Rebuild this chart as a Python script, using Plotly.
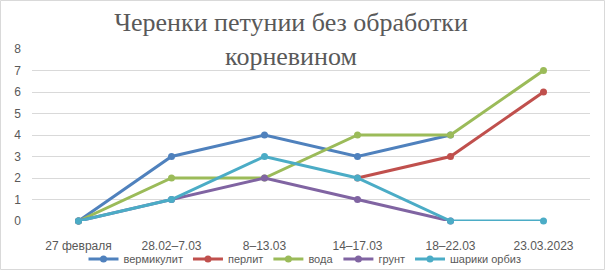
import plotly.graph_objects as go

categories = ["27 февраля", "28.02–7.03", "8–13.03", "14–17.03", "18–22.03", "23.03.2023"]
names = ["вермикулит", "перлит", "вода", "грунт", "шарики орбиз"]
vermiculite = [0, 3, 4, 3, 4, None]
perlite = [None, None, None, 2, 3, 6]
water = [0, 2, 2, 4, 4, 7]
soil = [0, 1, 2, 1, 0, None]
orbiz = [0, 1, 3, 2, 0, 0]
y_ticks = [0, 1, 2, 3, 4, 5, 6, 7, 8]
title_text = "Черенки петунии без обработки<br>корневином"

series = [vermiculite, perlite, water, soil, orbiz]
colors = ["#4F81BD", "#C0504D", "#9BBB59", "#8064A2", "#4BACC6"]

fig = go.Figure()
for name, vals, col in zip(names, series, colors):
    fig.add_trace(go.Scatter(
        x=categories, y=vals, name=name, mode="lines+markers",
        line=dict(color=col, width=3),
        marker=dict(color=col, size=7, symbol="circle"),
        connectgaps=False, cliponaxis=False,
    ))

L, R, T, B = 32, 15, 49, 49
W, H = 605, 270
pw, ph = W - L - R, H - T - B

fig.update_layout(
    width=W, height=H,
    margin=dict(l=L, r=R, t=T, b=B, autoexpand=False),
    paper_bgcolor="white", plot_bgcolor="white",
    title=dict(text=title_text, x=291 / W, xref="container", xanchor="center",
               y=1 - 31 / H, yref="container", yanchor="top",
               font=dict(family="Liberation Serif", size=26, color="#595959")),
    xaxis=dict(type="category", range=[-0.5, 5.5], showgrid=False, showline=False,
               zeroline=False, ticks="", ticklabelstandoff=16, tickangle=0,
               automargin=False,
               tickfont=dict(family="Liberation Sans", size=12, color="#595959")),
    yaxis=dict(range=[0, 8], tickvals=y_ticks, showgrid=True, gridcolor="#D9D9D9",
               gridwidth=1, zeroline=False, showline=False, ticks="",
               ticklabelstandoff=10, automargin=False,
               tickfont=dict(family="Liberation Sans", size=12, color="#595959")),
    legend=dict(orientation="h", x=(305 - L) / pw, xanchor="center",
                y=(221 - 259) / ph, yanchor="middle",
                font=dict(family="Liberation Sans", size=11, color="#595959"),
                itemwidth=30, tracegroupgap=0, bgcolor="rgba(0,0,0,0)"),
    shapes=[dict(type="rect", xref="paper", yref="paper",
                 x0=(0.5 - L) / pw, x1=(W - 0.5 - L) / pw,
                 y0=(221 - (H - 0.5)) / ph, y1=(221 - 0.5) / ph,
                 line=dict(color="#D9D9D9", width=1), layer="below")],
)

fig.write_html("out.html", config={"displayModeBar": False},
               post_script="document.body.style.margin='0';document.body.style.overflow='hidden';")
